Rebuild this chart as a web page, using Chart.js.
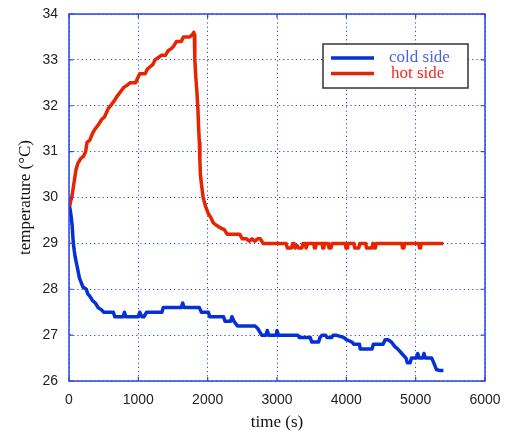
<!DOCTYPE html>
<html>
<head>
<meta charset="utf-8">
<script src="https://cdn.jsdelivr.net/npm/chart.js@4.4.0/dist/chart.umd.min.js"></script>
<style>
  html, body { margin: 0; padding: 0; background: #fff; }
  #wrap { width: 507px; height: 433px; }
</style>
</head>
<body>
<div id="wrap"><canvas id="chart" width="507" height="433"></canvas></div>
<script>
// tick values
const xTicks = [0, 1000, 2000, 3000, 4000, 5000, 6000];
const yTicks = [26, 27, 28, 29, 30, 31, 32, 33, 34];

const seriesLabels = ['cold side', 'hot side'];

// [time (s), temperature (°C)]
const coldSide = [
    [0, 29.8], [15, 29.75], [30, 29.6], [45, 29.4], [60, 29.05], [75, 28.85], [90, 28.7],
    [110, 28.55], [130, 28.4], [150, 28.25], [175, 28.15], [200, 28.05], [250, 28.0],
    [270, 27.9], [300, 27.85], [340, 27.75], [380, 27.7], [420, 27.6], [470, 27.55],
    [500, 27.5], [640, 27.5], [660, 27.4], [780, 27.4], [800, 27.5], [820, 27.4],
    [1000, 27.4], [1020, 27.5], [1050, 27.4], [1080, 27.4], [1120, 27.5], [1340, 27.5],
    [1360, 27.6], [1620, 27.6], [1640, 27.7], [1660, 27.6], [1880, 27.6], [1910, 27.5],
    [2010, 27.5], [2030, 27.4], [2230, 27.4], [2250, 27.3], [2330, 27.3], [2350, 27.4],
    [2380, 27.3], [2430, 27.2], [2680, 27.2], [2720, 27.15], [2760, 27.05], [2780, 27.0],
    [2840, 27.0], [2860, 27.1], [2880, 27.0], [2990, 27.0], [3000, 27.1], [3020, 27.0],
    [3300, 27.0], [3320, 26.95], [3480, 26.95], [3500, 26.85], [3600, 26.85], [3620, 26.95],
    [3650, 27.0], [3700, 27.0], [3720, 26.95], [3790, 26.95], [3810, 27.0], [3850, 27.0],
    [3960, 26.95], [4000, 26.9], [4080, 26.85], [4110, 26.8], [4190, 26.8], [4200, 26.7],
    [4370, 26.7], [4390, 26.8], [4530, 26.8], [4560, 26.9], [4600, 26.9], [4650, 26.85],
    [4700, 26.75], [4740, 26.7], [4800, 26.6], [4860, 26.5], [4880, 26.4], [4920, 26.4],
    [4940, 26.5], [5010, 26.5], [5030, 26.6], [5050, 26.5], [5100, 26.5], [5120, 26.6],
    [5140, 26.5], [5230, 26.5], [5260, 26.4], [5300, 26.25], [5340, 26.23], [5400, 26.23]
];

const hotSide = [
    [0, 29.7], [20, 29.9], [40, 30.0], [60, 30.2], [80, 30.4], [100, 30.6], [130, 30.75],
    [170, 30.85], [210, 30.9], [240, 31.0], [260, 31.2], [300, 31.25], [340, 31.4],
    [380, 31.5], [430, 31.6], [470, 31.7], [510, 31.75], [540, 31.85], [570, 31.95],
    [600, 32.0], [650, 32.1], [690, 32.2], [740, 32.3], [790, 32.4], [840, 32.45],
    [880, 32.5], [960, 32.5], [990, 32.6], [1020, 32.7], [1100, 32.7], [1130, 32.8],
    [1170, 32.85], [1210, 32.9], [1240, 33.0], [1290, 33.05], [1330, 33.1], [1390, 33.1],
    [1430, 33.2], [1480, 33.25], [1510, 33.3], [1550, 33.4], [1620, 33.4], [1650, 33.5],
    [1740, 33.5], [1780, 33.55], [1800, 33.6], [1808, 33.55], [1815, 33.0], [1830, 32.6],
    [1845, 32.3], [1860, 31.9], [1870, 31.5], [1880, 31.2], [1888, 30.8], [1895, 30.5],
    [1910, 30.3], [1935, 30.0], [1970, 29.8], [2010, 29.65], [2050, 29.55], [2080, 29.45],
    [2120, 29.4], [2170, 29.35], [2240, 29.3], [2280, 29.2], [2460, 29.2], [2500, 29.1],
    [2560, 29.1], [2600, 29.05], [2640, 29.1], [2680, 29.05], [2720, 29.1], [2760, 29.1],
    [2800, 29.0], [3130, 29.0], [3150, 28.9], [3210, 28.9], [3225, 29.0], [3245, 29.0],
    [3260, 28.9], [3290, 28.95], [3310, 28.9], [3360, 28.9], [3375, 29.0], [3410, 29.0],
    [3420, 28.9], [3430, 28.9], [3440, 29.0], [3530, 29.0], [3540, 28.9], [3555, 28.9],
    [3565, 29.0], [3650, 29.0], [3660, 28.9], [3675, 28.9], [3685, 29.0], [3740, 29.0],
    [3750, 28.9], [3780, 28.9], [3795, 29.0], [3985, 29.0], [3995, 28.9], [4010, 28.9],
    [4020, 29.0], [4110, 29.0], [4120, 28.9], [4180, 28.9], [4195, 29.0], [4280, 29.0],
    [4290, 28.9], [4370, 28.9], [4385, 29.0], [4395, 29.0], [4405, 28.9], [4420, 28.9],
    [4430, 29.0], [4800, 29.0], [4810, 28.9], [4830, 28.9], [4840, 29.0], [5045, 29.0],
    [5055, 28.9], [5070, 28.9], [5080, 29.0], [5400, 29.0]
];

const lineColors = ['#0530d6', '#e62400'];
const legendTextColors = ['#4a5ee8', '#ee2a22'];
const axisBlue = '#2b45e6';

function toPoints(pairs) {
    return pairs.map(p => ({ x: p[0], y: p[1] }));
}

// box round the plot + little inward ticks, matlab style
const framePlugin = {
    id: 'frame',
    afterDatasetsDraw(chart) {
        const { ctx, chartArea: a, scales } = chart;
        ctx.save();
        ctx.strokeStyle = axisBlue;
        ctx.lineWidth = 1.5;
        ctx.strokeRect(a.left, a.top, a.right - a.left, a.bottom - a.top);
        ctx.lineWidth = 1.2;
        ctx.beginPath();
        xTicks.forEach(v => {
            const x = scales.x.getPixelForValue(v);
            ctx.moveTo(x, a.bottom); ctx.lineTo(x, a.bottom - 4);
            ctx.moveTo(x, a.top); ctx.lineTo(x, a.top + 4);
        });
        yTicks.forEach(v => {
            const y = scales.y.getPixelForValue(v);
            ctx.moveTo(a.left, y); ctx.lineTo(a.left + 4, y);
            ctx.moveTo(a.right, y); ctx.lineTo(a.right - 4, y);
        });
        ctx.stroke();
        ctx.restore();
    }
};

// legend box in the upper right corner
const legendBoxPlugin = {
    id: 'legendBox',
    afterDraw(chart) {
        const ctx = chart.ctx;
        const bx = 323, by = 44, bw = 145, bh = 44;
        ctx.save();
        ctx.fillStyle = '#fff';
        ctx.fillRect(bx, by, bw, bh);
        ctx.strokeStyle = '#333';
        ctx.lineWidth = 1.5;
        ctx.strokeRect(bx, by, bw, bh);
        ctx.font = '17px "Liberation Serif", "DejaVu Serif", serif';
        ctx.textBaseline = 'middle';
        chart.data.datasets.forEach((ds, i) => {
            const y = by + 14 + i * 15.5;
            ctx.strokeStyle = ds.borderColor;
            ctx.lineWidth = 3.5;
            ctx.beginPath();
            ctx.moveTo(bx + 8, y);
            ctx.lineTo(bx + 51, y);
            ctx.stroke();
            ctx.fillStyle = legendTextColors[i];
            ctx.fillText(ds.label, bx + 66 + i * 2, y);
        });
        ctx.restore();
    }
};

const ctx = document.getElementById('chart');

new Chart(ctx, {
    type: 'line',
    data: {
        datasets: [
            {
                label: seriesLabels[0],
                data: toPoints(coldSide),
                borderColor: lineColors[0],
                borderWidth: 3.5,
                borderJoinStyle: 'round',
                pointRadius: 0,
                tension: 0,
                fill: false
            },
            {
                label: seriesLabels[1],
                data: toPoints(hotSide),
                borderColor: lineColors[1],
                borderWidth: 3.5,
                borderJoinStyle: 'round',
                pointRadius: 0,
                tension: 0,
                fill: false
            }
        ]
    },
    options: {
        responsive: false,
        animation: false,
        layout: { padding: { left: 0, right: 22, top: 14, bottom: 0 } },
        plugins: {
            legend: { display: false },
            tooltip: { enabled: false }
        },
        scales: {
            x: {
                type: 'linear',
                min: 0,
                max: 6000,
                afterBuildTicks(scale) { scale.ticks = xTicks.map(v => ({ value: v })); },
                afterFit(scale) {
                    scale.height = 52;
                    scale.paddingLeft = 0;
                    scale.paddingRight = 0;
                },
                ticks: {
                    color: '#222',
                    padding: 11,
                    maxRotation: 0,
                    callback: v => String(v),
                    font: { family: '"Liberation Sans", Arial, sans-serif', size: 14 }
                },
                grid: { color: axisBlue, lineWidth: 1, drawTicks: false },
                border: { display: false, dash: [1.2, 3] },
                title: {
                    display: true,
                    text: 'time (s)',
                    color: '#111',
                    padding: { top: 3, bottom: 0 },
                    font: { family: '"Liberation Serif", "DejaVu Serif", serif', size: 17 }
                }
            },
            y: {
                type: 'linear',
                min: 26,
                max: 34,
                afterBuildTicks(scale) { scale.ticks = yTicks.map(v => ({ value: v })); },
                afterFit(scale) {
                    scale.width = 69;
                    scale.paddingTop = 0;
                    scale.paddingBottom = 0;
                },
                ticks: {
                    color: '#222',
                    padding: 11,
                    callback: v => String(v),
                    font: { family: '"Liberation Sans", Arial, sans-serif', size: 14 }
                },
                grid: { color: axisBlue, lineWidth: 1, drawTicks: false },
                border: { display: false, dash: [1.2, 3] },
                title: {
                    display: true,
                    text: 'temperature (°C)',
                    color: '#111',
                    padding: { top: 15, bottom: 0 },
                    font: { family: '"Liberation Serif", "DejaVu Serif", serif', size: 17 }
                }
            }
        }
    },
    plugins: [framePlugin, legendBoxPlugin]
});
</script>
</body>
</html>
